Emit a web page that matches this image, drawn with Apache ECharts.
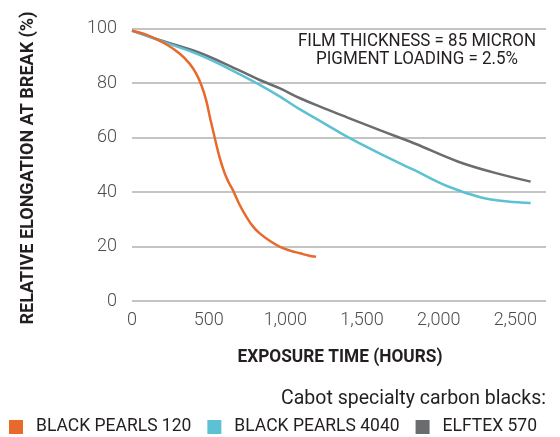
<!DOCTYPE html>
<html>
<head>
<meta charset="utf-8">
<script src="https://cdn.jsdelivr.net/npm/echarts@6/dist/echarts.min.js"></script>
<style>html,body{margin:0;padding:0;background:#fff}#c{width:560px;height:437px}</style>
</head>
<body>
<div id="c"></div>
<script>
var seriesNames = ['BLACK PEARLS 120', 'BLACK PEARLS 4040', 'ELFTEX 570'];
var bp120 = [[0,99.2],[100,97.6],[220,94.3],[310,90.8],[374,87.2],[418,83.5],[455,78.8],[483,73.8],[510,67],[538,60.3],[570,53],[604,46.9],[630,43.6],[658,40.7],[700,35.5],[746,30.9],[790,27.3],[833,24.8],[900,22],[965,19.9],[1030,18.5],[1096,17.5],[1150,16.7],[1200,16.2]];
var bp4040 = [[0,99.2],[200,95.2],[440,90.3],[700,83.3],[833,79.3],[965,75],[1096,70.3],[1250,65.3],[1402,60.3],[1620,54],[1839,48.1],[2058,42.1],[2277,38],[2450,36.5],[2600,36]];
var elftex570 = [[0,99.2],[200,95.4],[440,91.1],[700,84.6],[833,81.1],[965,78],[1096,74.4],[1250,70.8],[1402,67.4],[1620,62.6],[1839,57.9],[2124,51.2],[2350,47.3],[2600,43.8]];
var colors = ['#E8692C', '#5CC1D3', '#6B6C6E'];
var xTicks = [0, 500, 1000, 1500, 2000, 2500];
var yTicks = [0, 20, 40, 60, 80, 100];
var xTitle = 'EXPOSURE TIME (HOURS)';
var yTitle = 'RELATIVE ELONGATION AT BREAK (%)';
var noteLines = ['FILM THICKNESS = 85 MICRON', 'PIGMENT LOADING = 2.5%'];
var legendCaption = 'Cabot specialty carbon blacks:';

var chart = echarts.init(document.getElementById('c'), null, {renderer: 'canvas'});
var baseFont = 'Roboto';
var mctx = document.createElement('canvas').getContext('2d');
function fitText(text, font, targetW, cx, cy, rot, color) {
  mctx.font = font;
  var w = mctx.measureText(text).width;
  return {type: 'text', x: cx, y: cy, rotation: rot || 0, scaleX: targetW / w, scaleY: 1,
    style: {text: text, font: font, x: 0, y: 0, textAlign: 'center', textVerticalAlign: 'middle',
      align: 'center', verticalAlign: 'middle', fill: color || '#231F20'}};
}
function fmt(v){ return xTicks.indexOf(v) < 0 ? '' : v.toLocaleString('en-US'); }
var data = [bp120, bp4040, elftex570];
var gridLines = {silent: true, symbol: 'none', z: 0, label: {show: false},
  lineStyle: {color: '#C4C4C4', width: 2, type: 'solid'},
  emphasis: {disabled: true},
  data: yTicks.map(function(v){ return {yAxis: v}; })};
chart.setOption({
  animation: false,
  color: colors,
  grid: {left: 132, right: 14, top: 28.5, bottom: 136},
  xAxis: {
    type: 'value', min: 0, max: 2700, interval: 500,
    axisLine: {show: false}, axisTick: {show: false}, splitLine: {show: false},
    axisLabel: {formatter: fmt, fontFamily: baseFont, fontWeight: 300, fontSize: 18, color: '#4D4D4F', margin: 10, showMaxLabel: false}
  },
  yAxis: {
    type: 'value', min: 0, max: 100, interval: 20,
    axisLine: {show: false}, axisTick: {show: false},
    splitLine: {show: false},
    axisLabel: {fontFamily: baseFont, fontWeight: 300, fontSize: 18, color: '#4D4D4F', margin: 15}
  },
  legend: {
    data: seriesNames, left: 9, top: 418, padding: 0, itemWidth: 14, itemHeight: 14, itemGap: 16, icon: 'rect',
    textStyle: {fontFamily: baseFont, fontSize: 17.5, color: '#231F20', padding: [0,0,0,8]}
  },
  graphic: [
    fitText(xTitle, 'bold 19px Roboto', 205, 340, 357, 0, '#231F20'),
    fitText(yTitle, 'bold 19px Roboto', 313, 28.5, 168, Math.PI / 2, '#231F20'),
    fitText(noteLines[0], '18px Roboto', 238, 417, 41.5, 0, '#231F20'),
    fitText(noteLines[1], '18px Roboto', 202, 417, 59.5, 0, '#231F20'),
    {type: 'text', x: 546, y: 399.5, style: {text: legendCaption, x: 0, y: 0, textAlign: 'right', align: 'right',
      textVerticalAlign: 'middle', verticalAlign: 'middle', font: '19.5px Roboto', fill: '#231F20'}}
  ],
  series: seriesNames.map(function(n, i){
    var s = {name: n, type: 'line', data: data[i], smooth: 0.4, showSymbol: false, symbol: 'none',
      lineStyle: {width: 2.5, color: colors[i]}, z: 4 - i};
    if (i === 2) s.markLine = gridLines;
    return s;
  })
});
</script>
</body>
</html>
